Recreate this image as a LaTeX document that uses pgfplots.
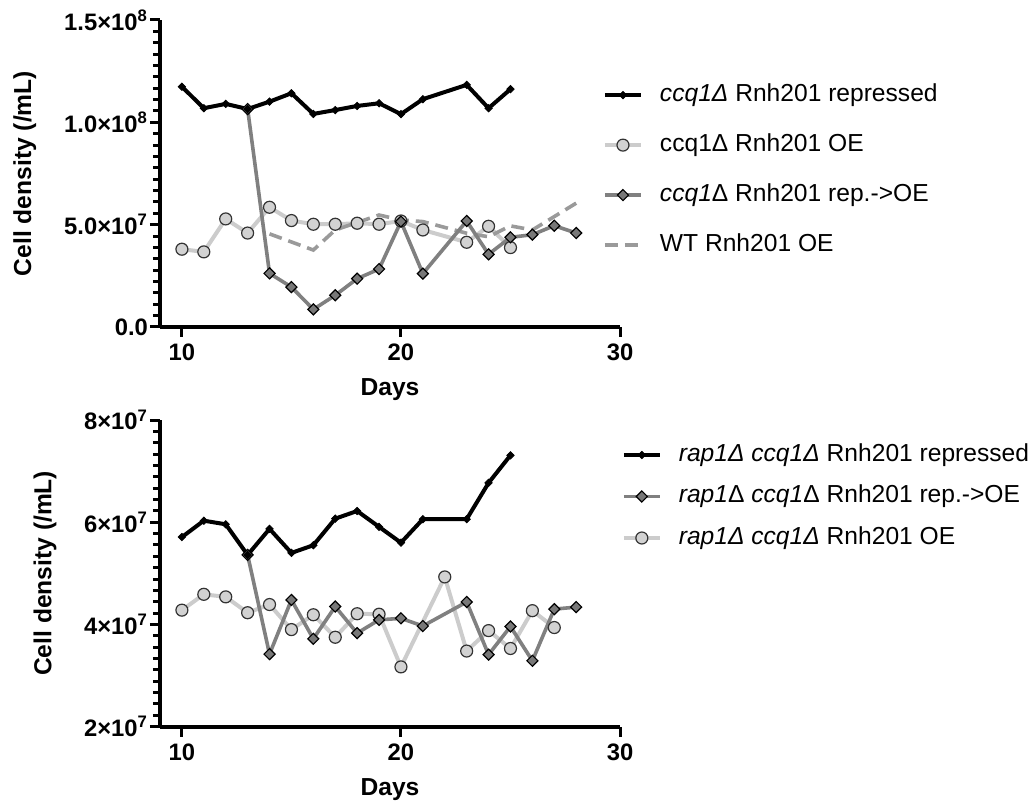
\documentclass[border=0pt]{standalone}
\usepackage{fontspec}
\setmainfont{Liberation Sans}
\usepackage{pgfplots}
\pgfplotsset{compat=1.18}
\definecolor{lgline}{HTML}{CCCCCC}
\definecolor{lgfill}{HTML}{D2D2D2}
\definecolor{dgline}{HTML}{808080}
\definecolor{dgfill}{HTML}{787878}
\definecolor{dashc}{HTML}{9A9A9A}
\pgfplotsset{
  repst/.style={black, line width=2pt, mark=square*, mark size=1.3pt, mark options={rotate=45, solid, fill=black, draw=black, line width=0.4pt}},
  oest/.style={color=lgline, line width=2pt, mark=*, mark size=3pt, mark options={solid, fill=lgfill, draw=black!80, line width=0.6pt}},
  rtoest/.style={color=dgline, line width=1.8pt, mark=square*, mark size=1.95pt, mark options={rotate=45, solid, fill=dgfill, draw=black, line width=0.6pt}},
  wtst/.style={color=dashc, line width=1.8pt, dash pattern=on 6.5pt off 3.5pt, mark=none},
  myaxis/.style={
    scale only axis, width=230pt,
    axis x line*=bottom, axis y line*=left,
    axis line style={line width=2pt},
    tick align=outside,
    major tick length=5pt, minor tick length=3.5pt,
    every tick/.style={black, line width=1.5pt},
    scaled y ticks=false,
    xmin=9, xmax=30,
    xtick={10,20,30}, xticklabels={\textbf{10},\textbf{20},\textbf{30}},
    minor y tick num=8,
    ticklabel style={font=\bfseries\fontsize{11.9}{13}\selectfont},
    yticklabel style={xshift=2.5pt},
    label style={font=\bfseries\fontsize{12.3}{14}\selectfont},
    xlabel={Days},
    ylabel={Cell density (/mL)},
    legend style={draw=none, fill=none, inner sep=0pt, outer sep=0pt, font=\fontsize{12.3}{14}\selectfont,
      nodes={inner sep=0pt, anchor=west, text height=9pt, text depth=3pt},
      /tikz/every odd column/.append style={column sep=8.5pt}},
    legend cell align=left,
    legend image code/.code={\draw[mark repeat=2, mark phase=2, #1] plot coordinates {(0pt,0pt) (9pt,0pt) (18pt,0pt)};},
  }
}
\begin{document}
\begin{tikzpicture}
\path[use as bounding box] (0,0) rectangle (515.5pt,403.5pt);
% top axis
\begin{axis}[myaxis,
  at={(80pt,240pt)}, anchor=south west, height=153.5pt,
  ymin=0, ymax=1.5e8,
  ytick={0,5e7,1e8,1.5e8},
  yticklabels={\textbf{0.0},\textbf{5.0×10\textsuperscript{7}},\textbf{1.0×10\textsuperscript{8}},\textbf{1.5×10\textsuperscript{8}}},
  xlabel style={at={(axis description cs:0.5,-0.205)}, anchor=center},
  ylabel style={at={(axis description cs:-0.294,0.5)}, anchor=center, rotate=0},
  legend style={at={(axis description cs:0.963,0.511)}, anchor=west, row sep=13pt},
]
\addlegendimage{repst}
\addlegendentry{\textit{ccq1Δ} Rnh201 repressed}
\addlegendimage{oest}
\addlegendentry{ccq1Δ Rnh201 OE}
\addlegendimage{rtoest}
\addlegendentry{\textit{ccq1}Δ Rnh201 rep.->OE}
\addlegendimage{wtst}
\addlegendentry{WT Rnh201 OE}
\addplot[oest, forget plot] coordinates {(10,3.80e7)(11,3.67e7)(12,5.28e7)(13,4.59e7)(14,5.85e7)(15,5.20e7)(16,5.02e7)(17,5.02e7)(18,5.07e7)(19,5.02e7)(20,5.18e7)(21,4.74e7)(23,4.14e7)(24,4.92e7)(25,3.88e7)};
\addplot[wtst, forget plot] coordinates {(14,4.55e7)(16,3.76e7)(17,4.74e7)(19,5.47e7)(20,5.23e7)(21,5.15e7)(23,4.58e7)(24,4.41e7)(25,4.94e7)(26,4.74e7)(28,6.05e7)};
\addplot[rtoest, forget plot] coordinates {(13,10.65e7)(14,2.62e7)(15,1.95e7)(16,0.86e7)(17,1.55e7)(18,2.36e7)(19,2.83e7)(20,5.15e7)(21,2.61e7)(23,5.18e7)(24,3.55e7)(25,4.38e7)(26,4.51e7)(27,4.95e7)(28,4.59e7)};
\addplot[repst, forget plot] coordinates {(10,11.74e7)(11,10.69e7)(12,10.90e7)(13,10.65e7)(14,11.01e7)(15,11.42e7)(16,10.41e7)(17,10.60e7)(18,10.80e7)(19,10.93e7)(20,10.40e7)(21,11.13e7)(23,11.83e7)(24,10.69e7)(25,11.62e7)};
\end{axis}
% bottom axis
\begin{axis}[myaxis,
  at={(80pt,40.15pt)}, anchor=south west, height=153.35pt,
  ymin=2e7, ymax=8e7,
  ytick={2e7,4e7,6e7,8e7},
  yticklabels={\textbf{2×10\textsuperscript{7}},\textbf{4×10\textsuperscript{7}},\textbf{6×10\textsuperscript{7}},\textbf{8×10\textsuperscript{7}}},
  xlabel style={at={(axis description cs:0.5,-0.206)}, anchor=center},
  ylabel style={at={(axis description cs:-0.25,0.5)}, anchor=center, rotate=0},
  legend style={at={(axis description cs:1.004,0.7506)}, anchor=west, row sep=8.75pt},
]
\addlegendimage{repst}
\addlegendentry{\textit{rap1Δ ccq1Δ} Rnh201 repressed}
\addlegendimage{rtoest}
\addlegendentry{\textit{rap1}Δ \textit{ccq1}Δ Rnh201 rep.->OE}
\addlegendimage{oest}
\addlegendentry{\textit{rap1Δ ccq1Δ} Rnh201 OE}
\addplot[oest, forget plot] coordinates {(10,4.28e7)(11,4.59e7)(12,4.54e7)(13,4.23e7)(14,4.39e7)(15,3.90e7)(16,4.19e7)(17,3.75e7)(18,4.21e7)(19,4.20e7)(20,3.17e7)(22,4.93e7)(23,3.48e7)(24,3.88e7)(25,3.53e7)(26,4.27e7)(27,3.94e7)};
\addplot[rtoest, forget plot] coordinates {(13,5.36e7)(14,3.42e7)(15,4.48e7)(16,3.72e7)(17,4.35e7)(18,3.83e7)(19,4.09e7)(20,4.12e7)(21,3.97e7)(23,4.44e7)(24,3.41e7)(25,3.96e7)(26,3.29e7)(27,4.30e7)(28,4.34e7)};
\addplot[repst, forget plot] coordinates {(10,5.71e7)(11,6.03e7)(12,5.96e7)(13,5.36e7)(14,5.87e7)(15,5.40e7)(16,5.55e7)(17,6.07e7)(18,6.22e7)(19,5.91e7)(20,5.60e7)(21,6.06e7)(23,6.06e7)(24,6.77e7)(25,7.31e7)};
\end{axis}
\end{tikzpicture}
\end{document}
